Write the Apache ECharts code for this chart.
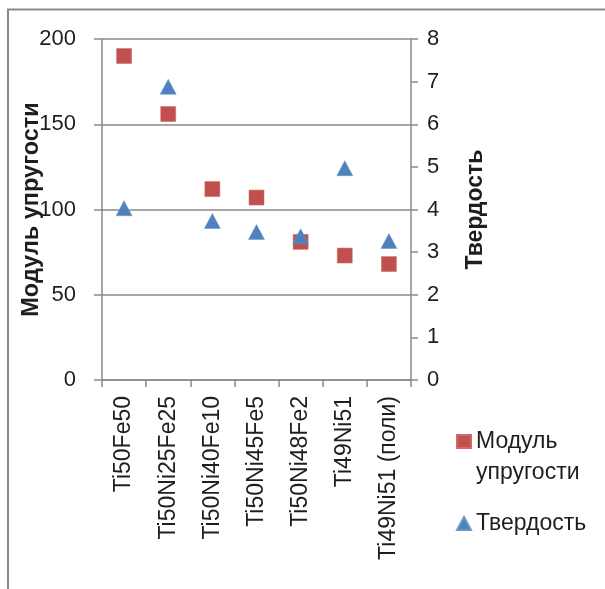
<!DOCTYPE html>
<html>
<head>
<meta charset="utf-8">
<script src="https://cdn.jsdelivr.net/npm/echarts@6/dist/echarts.min.js"></script>
<style>
html,body{margin:0;padding:0;background:#fff;}
#c{width:605px;height:589px;}
</style>
</head>
<body>
<div id="c"></div>
<script>
const categories = ['Ti50Fe50','Ti50Ni25Fe25','Ti50Ni40Fe10','Ti50Ni45Fe5','Ti50Ni48Fe2','Ti49Ni51','Ti49Ni51 (поли)'];
const modulus = [190, 156, 112, 107, 81, 73, 68];
const hardness = [4.03, 6.88, 3.73, 3.47, 3.37, 4.97, 3.26];
const seriesNames = ['Модуль упругости', 'Твердость'];
const leftTicks = {min: 0, max: 200, interval: 50};
const rightTicks = {min: 0, max: 8, interval: 1};

const FONT = 'Liberation Sans';
const GRAY = '#8a8a8a';
const TXT = '#1e1e1e';

const chart = echarts.init(document.getElementById('c'), null, {renderer: 'canvas'});
chart.setOption({
  animation: false,
  backgroundColor: '#fff',
  textStyle: {fontFamily: FONT},
  graphic: [{
    type: 'rect', silent: true,
    shape: {x: 8, y: 9.5, width: 700, height: 700},
    style: {fill: 'none', stroke: GRAY, lineWidth: 2}
  }],
  grid: {left: 102, right: 194, top: 39, bottom: 209, containLabel: false, outerBoundsMode: 'none'},
  legend: {
    orient: 'vertical', left: 456, top: 395, padding: 0,
    itemWidth: 14, itemHeight: 13, itemGap: 20,
    textStyle: {fontFamily: FONT, fontSize: 23, color: TXT, lineHeight: 31},
    formatter: function (n) { return n === seriesNames[0] ? '\nМодуль\nупругости' : n; },
    data: [{name: seriesNames[0], icon: 'rect'}, {name: seriesNames[1], icon: 'triangle'}]
  },
  xAxis: {
    type: 'category', data: categories, boundaryGap: true,
    axisLine: {show: true, lineStyle: {color: GRAY, width: 1.5}},
    axisTick: {show: true, length: 7, lineStyle: {color: GRAY, width: 1.5}},
    axisLabel: {rotate: 90, margin: 16, fontFamily: FONT, fontSize: 23, color: TXT, interval: 0},
    splitLine: {show: false}
  },
  yAxis: [{
    type: 'value', min: leftTicks.min, max: leftTicks.max, interval: leftTicks.interval,
    name: seriesNames[0], nameLocation: 'middle', nameRotate: 90, nameGap: 58, nameMoveOverlap: false,
    nameTextStyle: {fontFamily: FONT, fontSize: 23.5, fontWeight: 'bold', color: TXT},
    axisLine: {show: true, lineStyle: {color: GRAY, width: 1.5}},
    axisTick: {show: true, length: 8, lineStyle: {color: GRAY, width: 1.5}},
    axisLabel: {margin: 26, fontFamily: FONT, fontSize: 22, color: TXT},
    splitLine: {show: true, lineStyle: {color: GRAY, width: 1.5}}
  }, {
    type: 'value', min: rightTicks.min, max: rightTicks.max, interval: rightTicks.interval,
    position: 'right',
    name: seriesNames[1], nameLocation: 'middle', nameRotate: 90, nameGap: 53, nameMoveOverlap: false,
    nameTextStyle: {fontFamily: FONT, fontSize: 23, fontWeight: 'bold', color: TXT},
    axisLine: {show: true, lineStyle: {color: GRAY, width: 1.5}},
    axisTick: {show: true, length: 7, lineStyle: {color: GRAY, width: 1.5}},
    axisLabel: {margin: 16, fontFamily: FONT, fontSize: 22, color: TXT},
    splitLine: {show: false}
  }],
  series: [{
    name: seriesNames[0], type: 'scatter', yAxisIndex: 0,
    symbol: 'rect', symbolSize: 15,
    itemStyle: {color: '#C0504D', opacity: 1, borderColor: '#cf6a67', borderWidth: 0.5},
    data: modulus
  }, {
    name: seriesNames[1], type: 'scatter', yAxisIndex: 1,
    symbol: 'triangle', symbolSize: [16, 15],
    itemStyle: {color: '#4F81BD', opacity: 1, borderColor: '#6b95c9', borderWidth: 0.5},
    data: hardness
  }]
});
</script>
</body>
</html>
